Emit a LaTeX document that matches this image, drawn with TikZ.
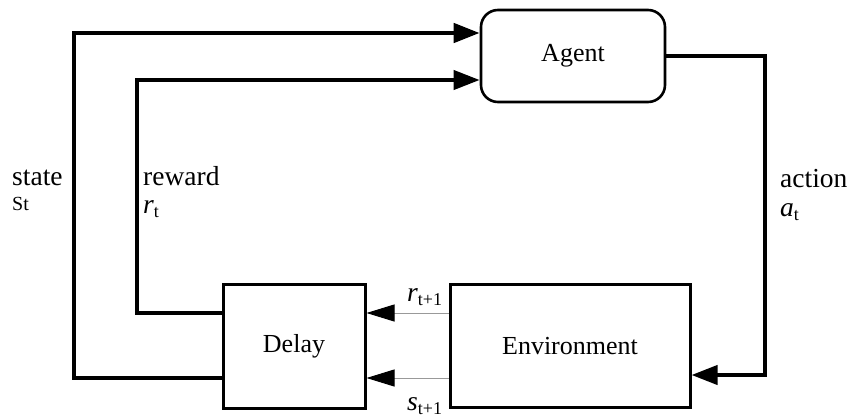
\documentclass[tikz,border=0pt]{standalone}
\usepackage{fontspec}
\setmainfont{Liberation Serif}
\usetikzlibrary{arrows.meta}

\tikzset{
  block/.style={draw=black, line width=3pt, fill=white, inner sep=0pt,
    font=\fontsize{26}{30}\selectfont},
  bigline/.style={draw=black, line width=4.5pt, line join=miter,
    -{Triangle[length=26pt,width=19pt]}},
  feedline/.style={draw=black!40, line width=1pt,
    -{Triangle[length=28pt,width=17pt,fill=black,color=black]}},
  lbl/.style={anchor=base west, inner sep=0pt, font=\fontsize{27.5}{32}\selectfont},
  sublbl/.style={anchor=base west, inner sep=0pt, font=\fontsize{20}{24}\selectfont}
}
\newcommand{\varsub}[2]{\textit{#1}\raisebox{-0.35ex}{\fontsize{18}{20}\selectfont #2}}

\begin{document}
\begin{tikzpicture}[x=1pt,y=-1pt]
  \useasboundingbox (0,0) rectangle (849,418);

  % blocks
  \node[block, rounded corners=17pt, line width=2.6pt,
        minimum width=184pt, minimum height=92pt] (agent) at (573,56) {Agent};
  \node[block, minimum width=142pt, minimum height=124pt] (delay) at (294,346) {Delay};
  \node[block, minimum width=240pt, minimum height=123pt] (env) at (570,346) {Environment};

  % corner points of the loops
  \coordinate (sa) at (74,378);
  \coordinate (sb) at (74,33);
  \coordinate (ra) at (137,313);
  \coordinate (rb) at (137,80);
  \coordinate (aa) at (765,56);
  \coordinate (ab) at (765,375);

  % state loop
  \draw[bigline] (delay.west |- sa) -- (sa) -- (sb) -- (agent.west |- sb);
  % reward loop
  \draw[bigline, line width=4pt] (delay.west |- ra) -- (ra) -- (rb) -- (agent.west |- rb);
  % action loop
  \draw[bigline, line width=4pt] (agent.east |- aa) -- (aa) -- (ab) -- (env.east |- ab);

  % environment outputs into the delay
  \draw[feedline] (env.west |- ra) -- (delay.east |- ra);
  \draw[feedline] (env.west |- sa) -- (delay.east |- sa);

  % labels
  \node[lbl] (lstate) at (12,185) {state};
  \node[sublbl] (lst) at (12,210) {St};
  \node[lbl] (lreward) at (143,185) {reward};
  \node[lbl] (lrt) at (143,213) {\varsub{r}{t}};
  \node[lbl] (laction) at (780,187) {action};
  \node[lbl] (lat) at (780,216) {\varsub{a}{t}};
  \node[lbl] (lr1) at (407,301) {\varsub{r}{t+1}};
  \node[lbl] (ls1) at (407,410) {\varsub{s}{t+1}};
\end{tikzpicture}
\end{document}
